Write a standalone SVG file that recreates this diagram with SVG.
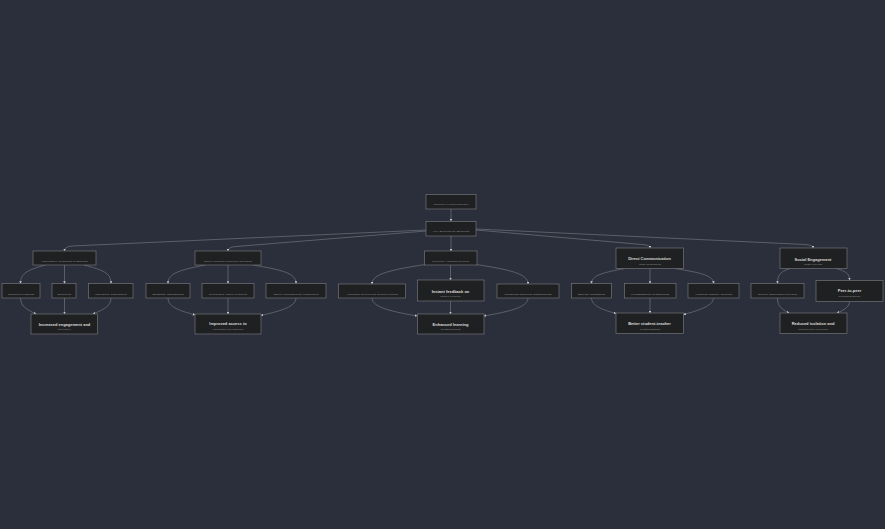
<svg xmlns="http://www.w3.org/2000/svg" width="885" height="529" viewBox="0 0 885 529">
<style>
.bg{fill:#2a2f3b}
.node rect{fill:#1f2021;stroke:#727478;stroke-width:0.7}
.edges path{fill:none;stroke:#7b7f86;stroke-width:0.6}
text{font-family:"Liberation Sans",Arial,sans-serif;text-anchor:middle}
.t{font-size:2.3px;fill:#8e8e8e}
.b{font-size:4px;font-weight:bold;fill:#dcdcdc}
.s{font-size:2px;fill:#8a8a8a}
</style>
<defs>
<marker id="arr" viewBox="0 0 10 10" refX="9" refY="5" markerUnits="userSpaceOnUse" markerWidth="2.6" markerHeight="2.6" orient="auto">
<path d="M0,0 L10,5 L0,10 z" fill="#c8c8c8"/>
</marker>
</defs>
<rect class="bg" x="0" y="0" width="885" height="529"/>
<g class="edges" marker-end="url(#arr)">
<path d="M451,209 L451,221"/>
<path d="M426,230 L72,246 Q64.5,246.5 64.5,251"/>
<path d="M426,231 L236,246.5 Q228,247 228,251"/>
<path d="M451,236 L451,251"/>
<path d="M476,230 L642,244.5 Q650,245 650,248"/>
<path d="M476,229 L805,244.5 Q813,245 813,248"/>
<path d="M45,265 C28,270 20.5,273 20.5,283.5"/>
<path d="M64.5,265 L64.5,283.5"/>
<path d="M84,265 C103,270 111,273 111,283.5"/>
<path d="M20.5,298 C20.5,307 28,310 36,314"/>
<path d="M64.5,298 L64.5,314"/>
<path d="M111,298 C111,307 102,310 93,314"/>
<path d="M205,265 C180,270 168,273 168,283.5"/>
<path d="M228,265 L228,283.5"/>
<path d="M253,265 C282,270 296,273 296,283.5"/>
<path d="M168,298 C168,308 182,311 195,315"/>
<path d="M228,298 L228,314"/>
<path d="M296,298 C296,308 275,312 261,315.5"/>
<path d="M425,264.5 C390,270 372,274 372,284"/>
<path d="M450.5,265 L450.5,280"/>
<path d="M476,264.5 C512,270 528,274 528,284"/>
<path d="M372,298 C372,308 395,312 417,316"/>
<path d="M450.5,301 L450.5,314"/>
<path d="M528,298 C528,308 506,312 484,316"/>
<path d="M625,268.5 C600,273 591.5,276 591.5,283.5"/>
<path d="M650,268.5 L650,283.5"/>
<path d="M675,268.5 C703,273 713.5,276 713.5,283.5"/>
<path d="M591.5,298 C591.5,306 603,310 616,313.5"/>
<path d="M650,298 L650,313"/>
<path d="M713.5,298 C713.5,306 697,311 683.5,314.5"/>
<path d="M790,268.5 C780,272 777.5,275 777.5,283.5"/>
<path d="M836,268.5 C846,271 849.5,274 849.5,280"/>
<path d="M777.5,298 C777.5,306 781,309 789,313"/>
<path d="M849.5,301.5 C849.5,307 844,310 837,313"/>
</g>
<g id="root" class="node"><rect x="426" y="194.5" width="50" height="14.5"/><text class="t" x="451" y="205.4" textLength="35" lengthAdjust="spacingAndGlyphs">Technology in Modern Education</text></g>
<g id="benefits" class="node"><rect x="426" y="221.5" width="50" height="14.5"/><text class="t" x="451" y="232" textLength="36" lengthAdjust="spacingAndGlyphs">Key Benefits for Students</text></g>
<g id="a" class="node"><rect x="33" y="251" width="63" height="14"/><text class="t" x="64.5" y="262.2" textLength="46" lengthAdjust="spacingAndGlyphs">Interactive Learning Platforms</text></g>
<g id="a1" class="node"><rect x="2" y="283.5" width="38" height="14.5"/><text class="t" x="21" y="294.7" textLength="26" lengthAdjust="spacingAndGlyphs">Gamified lessons</text></g>
<g id="a2" class="node"><rect x="52" y="283.5" width="24" height="14.5"/><text class="t" x="64" y="294.7" textLength="14" lengthAdjust="spacingAndGlyphs">Quizzes</text></g>
<g id="a3" class="node"><rect x="88.5" y="283.5" width="44.5" height="14.5"/><text class="t" x="111" y="294.7" textLength="32" lengthAdjust="spacingAndGlyphs">Interactive simulations</text></g>
<g id="a4" class="node"><rect x="31" y="314" width="66.5" height="20"/><text class="b" x="64.5" y="325.5">Increased engagement and</text><text class="s" x="64" y="330" textLength="13" lengthAdjust="spacingAndGlyphs">motivation</text></g>
<g id="b" class="node"><rect x="195" y="251" width="66" height="14"/><text class="t" x="228" y="262.2" textLength="48" lengthAdjust="spacingAndGlyphs">Online Learning Resources and Tools</text></g>
<g id="b1" class="node"><rect x="146" y="283.5" width="44" height="14.5"/><text class="t" x="168" y="294.7" textLength="31" lengthAdjust="spacingAndGlyphs">Digital libraries</text></g>
<g id="b2" class="node"><rect x="202" y="283.5" width="52" height="14.5"/><text class="t" x="228" y="294.7" textLength="38" lengthAdjust="spacingAndGlyphs">Recorded video lectures</text></g>
<g id="b3" class="node"><rect x="266" y="283.5" width="60" height="14.5"/><text class="t" x="296" y="294.7" textLength="45" lengthAdjust="spacingAndGlyphs">Open educational resources</text></g>
<g id="b4" class="node"><rect x="195" y="314" width="66" height="20"/><text class="b" x="228" y="325.3">Improved access to</text><text class="s" x="228" y="330" textLength="30" lengthAdjust="spacingAndGlyphs">information and materials</text></g>
<g id="c" class="node"><rect x="424.5" y="251" width="52.5" height="14"/><text class="t" x="450.5" y="262.2" textLength="37" lengthAdjust="spacingAndGlyphs">Real-time Assessment Tools</text></g>
<g id="c1" class="node"><rect x="338.5" y="284" width="67" height="14"/><text class="t" x="372" y="294.9" textLength="52" lengthAdjust="spacingAndGlyphs">Automated quizzes and grading systems</text></g>
<g id="c2" class="node"><rect x="417.5" y="280" width="66.5" height="21"/><text class="b" x="450.5" y="292.5">Instant feedback on</text><text class="s" x="450.5" y="297.3" textLength="20" lengthAdjust="spacingAndGlyphs">student progress</text></g>
<g id="c3" class="node"><rect x="497" y="284" width="62" height="14"/><text class="t" x="528" y="294.9" textLength="47" lengthAdjust="spacingAndGlyphs">Progress tracking dashboards</text></g>
<g id="c4" class="node"><rect x="417.5" y="314" width="66.5" height="20"/><text class="b" x="450.5" y="325.5">Enhanced learning</text><text class="s" x="450.5" y="330" textLength="20" lengthAdjust="spacingAndGlyphs">outcomes</text></g>
<g id="d" class="node"><rect x="616" y="248" width="67.5" height="20.5"/><text class="b" x="649.5" y="260.2">Direct Communication</text><text class="s" x="650" y="264.8" textLength="22" lengthAdjust="spacingAndGlyphs">with teachers</text></g>
<g id="d1" class="node"><rect x="571.5" y="283.5" width="40" height="14.5"/><text class="t" x="591.5" y="294.7" textLength="27" lengthAdjust="spacingAndGlyphs">Email updates</text></g>
<g id="d2" class="node"><rect x="624.5" y="283.5" width="51.5" height="14.5"/><text class="t" x="650" y="294.7" textLength="38" lengthAdjust="spacingAndGlyphs">Messaging platforms</text></g>
<g id="d3" class="node"><rect x="688" y="283.5" width="51" height="14.5"/><text class="t" x="713.5" y="294.7" textLength="37" lengthAdjust="spacingAndGlyphs">Virtual office hours</text></g>
<g id="d4" class="node"><rect x="616" y="313" width="67.5" height="20.5"/><text class="b" x="649.5" y="325.2">Better student-teacher</text><text class="s" x="650" y="329.8" textLength="20" lengthAdjust="spacingAndGlyphs">relationships</text></g>
<g id="e" class="node"><rect x="780" y="248" width="67" height="20.5"/><text class="b" x="813" y="260.5">Social Engagement</text><text class="s" x="813" y="265" textLength="18" lengthAdjust="spacingAndGlyphs">with peers</text></g>
<g id="e1" class="node"><rect x="751" y="283.5" width="53" height="14.5"/><text class="t" x="777.5" y="294.7" textLength="39" lengthAdjust="spacingAndGlyphs">Online discussion forums</text></g>
<g id="e2" class="node"><rect x="816" y="280.5" width="67" height="21"/><text class="b" x="849.5" y="292">Peer-to-peer</text><text class="s" x="849.5" y="296.8" textLength="22" lengthAdjust="spacingAndGlyphs">collaboration</text></g>
<g id="e3" class="node"><rect x="780" y="313" width="67" height="20.5"/><text class="b" x="813" y="325.3">Reduced isolation and</text><text class="s" x="813" y="330" textLength="30" lengthAdjust="spacingAndGlyphs">increased sense of belonging</text></g>
</svg>
